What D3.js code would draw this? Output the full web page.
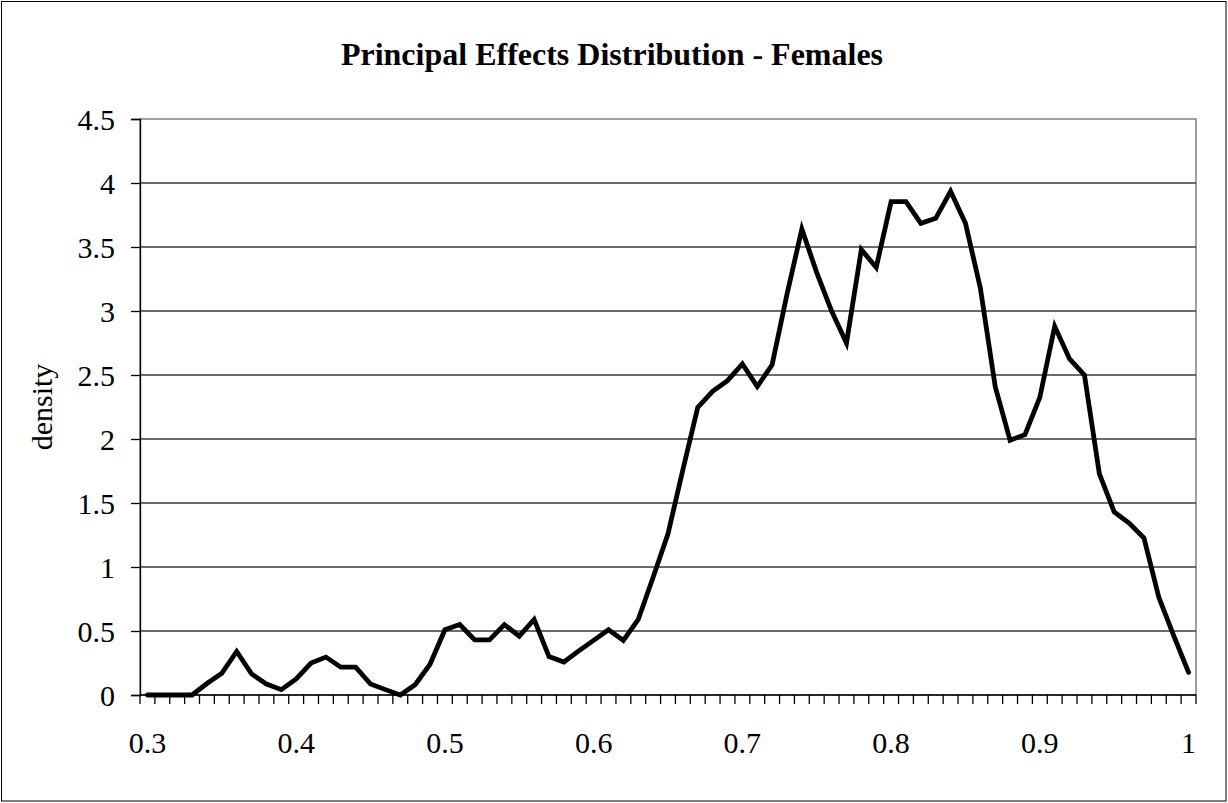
<!DOCTYPE html>
<html>
<head>
<meta charset="utf-8">
<script src="https://cdn.jsdelivr.net/npm/d3@7"></script>
<style>
  html, body { margin: 0; padding: 0; background: #fff; }
  svg { display: block; }
  text { font-family: "Liberation Serif", "Times New Roman", serif; fill: #000; }
</style>
</head>
<body>
<svg id="chart" width="1228" height="803"></svg>
<script>
// Effect size bins (category axis) and the estimated density in each bin
const categories = [
  "0.3","0.31","0.32","0.33","0.34","0.35","0.36","0.37","0.38","0.39",
  "0.4","0.41","0.42","0.43","0.44","0.45","0.46","0.47","0.48","0.49",
  "0.5","0.51","0.52","0.53","0.54","0.55","0.56","0.57","0.58","0.59",
  "0.6","0.61","0.62","0.63","0.64","0.65","0.66","0.67","0.68","0.69",
  "0.7","0.71","0.72","0.73","0.74","0.75","0.76","0.77","0.78","0.79",
  "0.8","0.81","0.82","0.83","0.84","0.85","0.86","0.87","0.88","0.89",
  "0.9","0.91","0.92","0.93","0.94","0.95","0.96","0.97","0.98","0.99","1"
];
const density = [
  0, 0, 0, 0, 0.09, 0.17, 0.34, 0.165, 0.086, 0.042,
  0.126, 0.25, 0.296, 0.217, 0.217, 0.086, 0.042, 0, 0.08, 0.24,
  0.51, 0.55, 0.43, 0.43, 0.55, 0.46, 0.59, 0.30, 0.258, 0.345,
  0.427, 0.51, 0.427, 0.59, 0.92, 1.26, 1.76, 2.247, 2.372, 2.456,
  2.586, 2.41, 2.58, 3.13, 3.64, 3.30, 3.00, 2.75, 3.48, 3.34,
  3.854, 3.854, 3.685, 3.724, 3.935, 3.685, 3.18, 2.41, 1.99, 2.034,
  2.325, 2.88, 2.625, 2.5, 1.73, 1.43, 1.344, 1.227, 0.763, 0.464, 0.177
];
const xTickLabels = ["0.3","0.4","0.5","0.6","0.7","0.8","0.9","1"];
const yTickValues = [0, 0.5, 1, 1.5, 2, 2.5, 3, 3.5, 4, 4.5];
const yTickLabels = ["0","0.5","1","1.5","2","2.5","3","3.5","4","4.5"];

const svg = d3.select("#chart");
const plot = { left: 140, right: 1196, top: 119, bottom: 695 };

const x = d3.scaleBand().domain(categories).range([plot.left, plot.right]).padding(0);
const xc = c => x(c) + x.bandwidth() / 2;
const y = d3.scaleLinear().domain([0, 4.5]).range([plot.bottom, plot.top]);

// outer chart frame
svg.append("rect")
  .attr("x", 1.5).attr("y", 1.5).attr("width", 1224.5).attr("height", 799.5)
  .attr("fill", "#fff").attr("stroke", "#000").attr("stroke-width", 1);

// title
svg.append("text")
  .attr("x", 612).attr("y", 65)
  .attr("text-anchor", "middle")
  .style("font-size", "32px").style("font-weight", "bold")
  .text("Principal Effects Distribution - Females");

// plot area border
svg.append("rect")
  .attr("x", plot.left).attr("y", plot.top)
  .attr("width", plot.right - plot.left).attr("height", plot.bottom - plot.top)
  .attr("fill", "none").attr("stroke", "#808080").attr("stroke-width", 1.5);

// horizontal gridlines
svg.append("g").selectAll("line")
  .data(yTickValues.filter(v => v > 0 && v < 4.5))
  .join("line")
  .attr("x1", plot.left).attr("x2", plot.right)
  .attr("y1", d => y(d)).attr("y2", d => y(d))
  .attr("stroke", "#3a3a3a").attr("stroke-width", 1.3);

// y axis
const yAxis = d3.axisLeft(y)
  .tickValues(yTickValues)
  .tickFormat((d, i) => yTickLabels[i])
  .tickSize(9).tickPadding(16);
const gy = svg.append("g").attr("transform", `translate(${plot.left},0)`).call(yAxis);
gy.select(".domain").attr("stroke", "#000").attr("stroke-width", 1.3);
gy.selectAll(".tick line").attr("stroke", "#000").attr("stroke-width", 1.3);
gy.selectAll(".tick text")
  .style("font-size", "30px")
  .attr("font-family", "Liberation Serif, serif")
  .attr("dy", "0.34em");

// x axis: tick marks on every bin boundary, labels every tenth bin
const boundaries = categories.map(c => x(c)).concat([plot.right]);
const gx = svg.append("g");
gx.append("line")
  .attr("x1", plot.left).attr("x2", plot.right)
  .attr("y1", plot.bottom).attr("y2", plot.bottom)
  .attr("stroke", "#000").attr("stroke-width", 1.3);
gx.selectAll("line.tk").data(boundaries).join("line")
  .attr("class", "tk")
  .attr("x1", d => d).attr("x2", d => d)
  .attr("y1", plot.bottom).attr("y2", plot.bottom + 9)
  .attr("stroke", "#000").attr("stroke-width", 1.3);
gx.selectAll("text").data(xTickLabels).join("text")
  .attr("x", d => xc(d)).attr("y", 753)
  .attr("text-anchor", "middle")
  .style("font-size", "30px")
  .text(d => d);

// y axis title
svg.append("text")
  .attr("transform", "translate(52,407) rotate(-90)")
  .attr("text-anchor", "middle")
  .style("font-size", "30px")
  .text("density");

// density curve
const line = d3.line()
  .x((d, i) => xc(categories[i]))
  .y(d => y(d));
svg.append("path")
  .datum(density)
  .attr("d", line)
  .attr("fill", "none")
  .attr("stroke", "#000")
  .attr("stroke-width", 4.8)
  .attr("stroke-linejoin", "miter")
  .attr("stroke-miterlimit", 4)
  .attr("stroke-linecap", "round");
</script>
</body>
</html>
